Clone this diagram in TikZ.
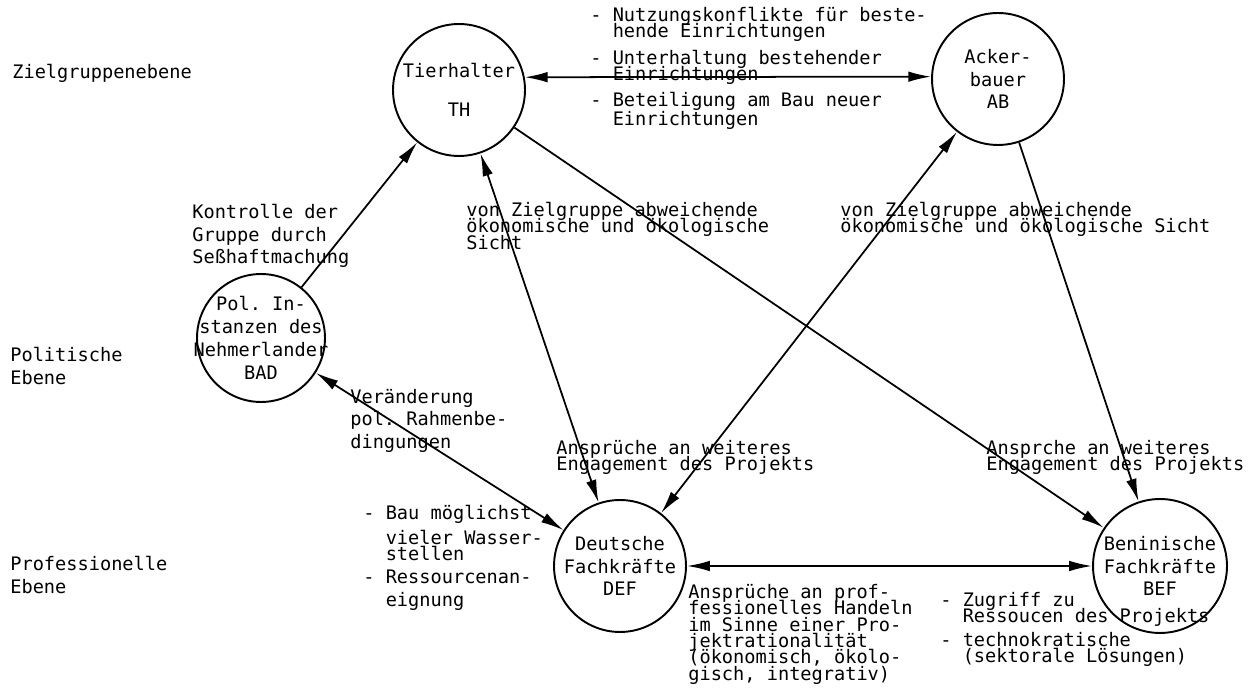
\documentclass[tikz,border=0pt]{standalone}
\usepackage{fontspec}
\setmonofont{DejaVu Sans Mono}
\usepackage{tikz}
\usetikzlibrary{arrows.meta,positioning}
\newcommand\tightfont{\ttfamily\fontsize{10.6pt}{9.3pt}\selectfont\lineskiplimit=-\maxdimen}
\newcommand\widefont{\ttfamily\fontsize{10.6pt}{12.8pt}\selectfont\lineskiplimit=-\maxdimen}
\newcommand\ind{\hphantom{xx}}
\tikzset{
  actor/.style={
    circle, draw, line width=1.1pt, minimum size=2.64cm,
    inner sep=0pt, align=center, font=\widefont
  },
  note/.style={anchor=north west, inner sep=0pt, align=left, font=\tightfont},
  wnote/.style={note, font=\widefont},
  link/.style={-{Latex[length=13pt,width=6pt]}, line width=1pt},
  biarrow/.style={{Latex[length=13pt,width=6pt]}-{Latex[length=13pt,width=6pt]}, line width=1pt}
}
\begin{document}
\begin{tikzpicture}[x=0.02cm, y=-0.02cm]
  \useasboundingbox (0,0) rectangle (1258,688);

  % levels
  \node[wnote] (lvlZ) at (12,64)  {Zielgruppenebene};
  \node[wnote] (lvlP) at (10,347) {Politische\\Ebene};
  \node[wnote] (lvlF) at (10,556) {Professionelle\\Ebene};

  % actors
  \node[actor] (th)  at (459,90)  {Tierhalter\\[9pt]TH};
  \node[actor] (ab)  at (998,79)  {Acker-\\bauer\\AB};
  \node[actor, minimum size=2.56cm, inner sep=-0.33cm,
        font=\ttfamily\fontsize{10.6pt}{13.1pt}\selectfont]
               (bad) at (261,338) {Pol. In-\\stanzen des\\Nehmerlander\\BAD};
  \node[actor] (def) at (620,566) {Deutsche\\Fachkräfte\\DEF};
  \node[actor, minimum size=2.68cm] (bef) at (1160,566) {Beninische\\Fachkräfte\\BEF};

  % notes
  \node[note] (nutz) at (590,7) {- Nutzungskonflikte für beste-\\
    \ind hende Einrichtungen\\[5.7pt]
    - Unterhaltung bestehender\\
    \ind Einrichtungen\\[5.7pt]
    - Beteiligung am Bau neuer\\[1.2pt]
    \ind Einrichtungen};
  \node[wnote] (kontr) at (192,204) {Kontrolle der\\Gruppe durch\\Seßhaftmachung};
  \node[note] (sichtL) at (466,202) {von Zielgruppe abweichende\\ökonomische und ökologische\\Sicht};
  \node[note] (sichtR) at (840,202) {von Zielgruppe abweichende\\ökonomische und ökologische Sicht};
  \node[wnote] (veraend) at (350,389) {Veränderung\\pol. Rahmenbe-\\dingungen};
  \node[note] (anspL) at (556,440) {Ansprüche an weiteres\\Engagement des Projekts};
  \node[note] (anspR) at (986,440) {Ansprche an weiteres\\Engagement des Projekts};
  \node[note] (bau) at (363,505) {- Bau möglichst\\[4.6pt]
    \ind vieler Wasser-\\
    \ind stellen\\[4pt]
    - Ressourcenan-\\[3.4pt]
    \ind eignung};
  \node[note] (prof) at (688,584) {Ansprüche an prof-\\fessionelles Handeln\\im Sinne einer Pro-\\jektrationalität\\(ökonomisch, ökolo-\\gisch, integrativ)};
  \node[note] (zugr) at (940,592) {- Zugriff zu\\
    \ind Ressoucen des Projekts\\[4.2pt]
    - technokratische\\
    \ind (sektorale Lösungen)};

  % relations
  \draw[biarrow] (th.11) -- (ab.178);
  \draw[link]    (bad) -- (th);
  \draw[biarrow] (th) -- (def);
  \draw[link]    (th) -- (bef);
  \draw[biarrow] (ab) -- (def);
  \draw[link]    (ab) -- (bef);
  \draw[biarrow] (bad) -- (def);
  \draw[biarrow] (def) -- (bef);
\end{tikzpicture}
\end{document}
